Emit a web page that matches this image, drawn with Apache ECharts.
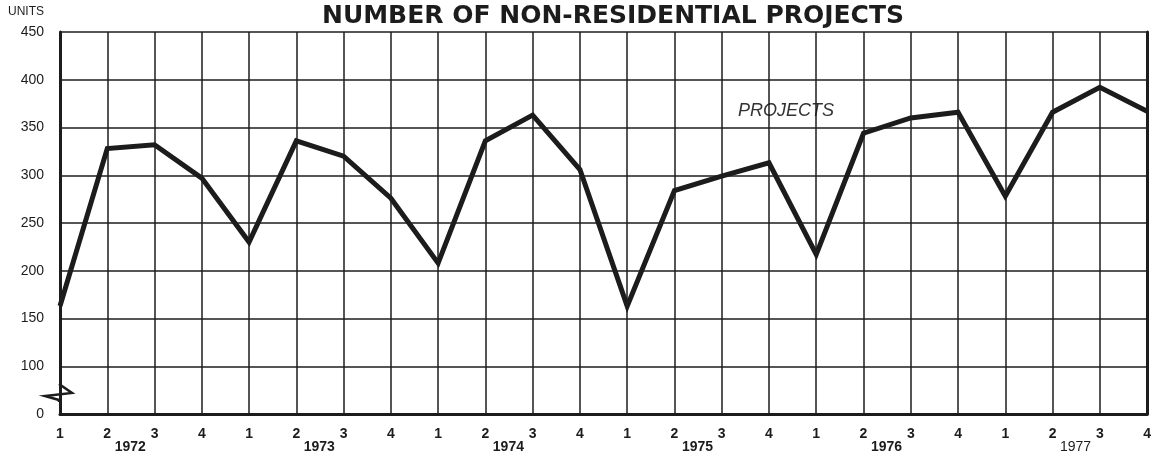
<!DOCTYPE html>
<html>
<head>
<meta charset="utf-8">
<script src="https://cdn.jsdelivr.net/npm/echarts@6/dist/echarts.min.js"></script>
<style>
  html, body { margin: 0; padding: 0; background: #fff; }
  #chart { width: 1154px; height: 459px; }
</style>
</head>
<body>
<div id="chart"></div>
<script>
// quarters 1972 Q1 .. 1977 Q4
const quarters = ["1","2","3","4","1","2","3","4","1","2","3","4","1","2","3","4","1","2","3","4","1","2","3","4"];
const years = ["1972", "1973", "1974", "1975", "1976", "1977"];
const projects = [163, 328, 332, 297, 230, 336, 320, 276, 208, 336, 363, 306, 163, 284, 299, 313, 217, 344, 360, 366, 278, 366, 392, 367];
const yTicks = [0, 100, 150, 200, 250, 300, 350, 400, 450];

const ink = "#1c1c1c";
let mychart = echarts.init(document.getElementById("chart"));

mychart.setOption({
  animation: false,
  textStyle: { fontFamily: "Liberation Sans, Arial, sans-serif", color: ink },
  title: {
    text: "NUMBER OF NON-RESIDENTIAL PROJECTS",
    left: 608,
    textAlign: "center",
    top: -1,
    textStyle: { fontSize: 25, fontWeight: "bold", color: ink, fontFamily: "DejaVu Sans, sans-serif" }
  },
  grid: { left: 60, right: 2, top: 32, bottom: 45 },
  xAxis: [
    {
      type: "category",
      boundaryGap: false,
      data: quarters,
      axisLine: { lineStyle: { color: ink, width: 3 } },
      axisTick: { show: false },
      axisLabel: { interval: 0, fontSize: 14, fontWeight: "bold", color: ink, margin: 13 },
      splitLine: { show: true, lineStyle: { color: ink, width: 1.5 } }
    },
    {
      // year row, label sits between quarter 2 and 3
      type: "category",
      boundaryGap: false,
      position: "bottom",
      data: quarters,
      axisLine: { show: false },
      axisTick: { show: false },
      splitLine: { show: false },
      axisLabel: {
        interval: 0,
        margin: 26,
        padding: [0, 0, 0, 46],
        formatter: (v, i) => {
          if (i % 4 !== 1) return "";
          const y = years[Math.floor(i / 4)];
          return y === "1977" ? "{l|" + y + "}" : "{b|" + y + "}";
        },
        rich: {
          b: { fontSize: 14, fontWeight: "bold", color: ink },
          l: { fontSize: 14, color: ink }
        }
      }
    }
  ],
  yAxis: [
    {
      // scale is broken: bottom line stands for 0
      type: "value",
      min: 50,
      max: 450,
      interval: 50,
      name: "UNITS",
      nameLocation: "end",
      nameGap: 14,
      nameTextStyle: { fontSize: 12, color: ink, align: "right", padding: [0, 16, 0, 0] },
      axisLine: { show: true, lineStyle: { color: ink, width: 3 } },
      axisTick: { show: false },
      axisLabel: {
        fontSize: 14,
        color: ink,
        margin: 16,
        formatter: v => (v === 50 ? String(yTicks[0]) : String(v))
      },
      splitLine: { lineStyle: { color: ink, width: 1.5 } }
    },
    {
      type: "value",
      position: "right",
      min: 50,
      max: 450,
      interval: 50,
      axisLine: { show: true, lineStyle: { color: ink, width: 3 } },
      axisTick: { show: false },
      axisLabel: { show: false },
      splitLine: { show: false }
    }
  ],
  series: [
    {
      name: "PROJECTS",
      type: "line",
      data: projects,
      symbol: "none",
      lineStyle: { color: ink, width: 5, join: "miter", cap: "butt" }
    }
  ],
  graphic: [
    {
      type: "text",
      left: 738,
      top: 102,
      style: { text: "PROJECTS", font: "italic 18px Liberation Sans, Arial, sans-serif", fill: "#333" }
    },
    {
      // axis break mark
      type: "rect",
      shape: { x: 55, y: 385, width: 10, height: 15 },
      style: { fill: "#fff" }
    },
    {
      type: "polyline",
      shape: { points: [[59, 384], [72, 393], [45, 396], [59, 400], [59, 402]] },
      style: { stroke: ink, lineWidth: 2.5, fill: null, lineJoin: "miter" }
    }
  ]
});
window.addEventListener("resize", () => {
  mychart.resize();
});
</script>
</body>
</html>
